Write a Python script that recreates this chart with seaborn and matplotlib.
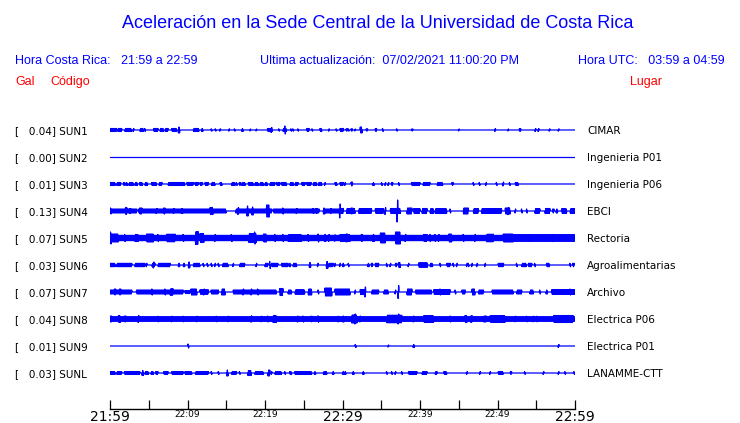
import numpy as np
import pandas as pd
import matplotlib
matplotlib.use("Agg")
import matplotlib.pyplot as plt
import seaborn as sns

# estaciones
codes = ["SUN1", "SUN2", "SUN3", "SUN4", "SUN5", "SUN6", "SUN7", "SUN8", "SUN9", "SUNL"]
places = ["CIMAR", "Ingenieria P01", "Ingenieria P06", "EBCI", "Rectoria",
          "Agroalimentarias", "Archivo", "Electrica P06", "Electrica P01", "LANAMME-CTT"]
peak_gal = [0.04, 0.00, 0.01, 0.13, 0.07, 0.03, 0.07, 0.04, 0.01, 0.03]
# ruido de fondo continuo (alto relativo)
base_amp = [0, 0, 0, 0, 2.7, 0, 0, 2.2, 0, 0]

tick_min = list(range(0, 61, 5))
tick_labels = ["21:59", "", "22:09", "", "22:19", "", "22:29", "", "22:39", "", "22:49", "", "22:59"]
big_ticks = ["21:59", "22:29", "22:59"]

sun1 = [(0.0, 0.86, 1.5), (1.0, 1.5, 1.5), (1.93, 2.79, 1.5), (3.0, 3.0, 1.5), (3.87, 4.3, 1.5),
        (4.5, 4.5, 1.5), (5.6, 6.2, 1.5), (6.45, 6.9, 1.5), (7.1, 7.5, 1.5), (7.95, 8.6, 1.5),
        (8.9, 8.9, 3), (10.75, 11.5, 1.5), (11.9, 11.9, 1.5), (13.1, 13.1, 1.2), (13.6, 13.6, 1.2),
        (14.2, 14.2, 1.2), (15.35, 15.35, 1.2), (16.1, 16.1, 1.2), (17.0, 17.2, 1.5), (18.1, 18.1, 1),
        (18.9, 18.9, 1), (20.3, 20.95, 1.5), (20.85, 20.85, 2.5), (21.8, 21.8, 1.2), (22.3, 22.8, 1.5),
        (22.6, 22.6, 4), (23.35, 23.35, 1.2), (23.65, 23.65, 1.2), (24.3, 24.3, 1.2), (25.4, 25.7, 1.5),
        (26.1, 26.1, 1.2), (27.1, 27.3, 1.5), (28.25, 28.25, 1.2), (29.2, 29.2, 1.2), (29.65, 30.1, 1.5),
        (30.55, 30.55, 1.2), (30.8, 30.8, 1.2), (31.2, 31.2, 1.2), (31.6, 31.6, 1), (32.3, 32.5, 3),
        (33.15, 33.15, 1.2), (34.2, 34.4, 1.5), (35.2, 35.2, 1.5), (37.0, 37.0, 1.2), (39.0, 39.0, 1),
        (45.0, 45.0, 1), (49.7, 49.7, 1.5), (51.4, 51.4, 1), (52.8, 53.0, 1.5), (54.9, 54.9, 1.5),
        (55.3, 55.3, 1.5), (56.7, 56.7, 1.2), (57.9, 57.9, 1.2)]
sun2 = []
sun3 = [(0.0, 0.65, 1.5), (0.86, 1.42, 1.5), (1.72, 1.94, 1.5), (2.15, 2.15, 1.5), (2.45, 3.0, 1.5),
        (3.23, 3.53, 1.5), (3.78, 4.22, 1.5), (4.52, 4.82, 1.5), (5.38, 6.02, 1.5), (6.37, 6.75, 1.5),
        (7.53, 9.68, 1.5), (9.89, 10.75, 1.5), (10.97, 11.4, 1.5), (11.61, 11.91, 1.5), (12.26, 12.69, 1.5),
        (13.12, 13.55, 1.5), (14.19, 14.49, 1.5), (15.7, 16.13, 1.5), (16.34, 16.34, 1.5), (16.77, 16.77, 1.5),
        (16.99, 17.42, 1.5), (17.85, 18.49, 1.5), (18.71, 19.14, 1.5), (19.35, 19.78, 1.5), (20.0, 20.34, 1.5),
        (20.65, 21.29, 1.5), (21.51, 21.94, 1.5), (22.15, 22.8, 1.5), (23.23, 23.66, 1.5), (23.87, 24.3, 1.5),
        (24.73, 25.16, 1.5), (25.38, 25.94, 1.5), (26.24, 26.67, 1.5), (26.88, 27.31, 1.5), (27.74, 27.74, 1.5),
        (29.03, 29.25, 1.5), (29.68, 30.11, 1.5), (30.3, 30.3, 1.5), (31.2, 31.2, 2), (34.0, 34.0, 1.5),
        (35.05, 35.05, 1.5), (35.5, 35.5, 1.5), (35.9, 35.9, 1.5), (36.4, 36.4, 1.5), (37.3, 37.3, 1.5),
        (38.9, 40.0, 1.5), (40.4, 41.3, 1.5), (42.2, 42.9, 1.5), (44.2, 44.2, 1.5), (46.9, 46.9, 1.5),
        (47.7, 47.7, 1.5), (48.5, 48.5, 1.5), (49.9, 49.9, 1.5), (50.75, 50.75, 2), (51.6, 51.6, 1.5),
        (52.3, 52.7, 1.5)]
sun4 = [(0.0, 3.5, 2.0), (3.7, 15.0, 2.0), (16.2, 20.9, 2.0), (21.1, 27.0, 2.0), (27.6, 29.9, 2.0),
        (0.1, 0.1, 3), (2.0, 2.15, 3.5), (2.6, 2.6, 2.5), (3.8, 4.1, 3), (6.0, 6.0, 2.5), (6.9, 7.1, 3),
        (8.2, 8.2, 2.5), (9.3, 9.3, 2.5), (12.9, 13.3, 3.5), (16.55, 16.55, 3.5), (17.75, 17.75, 5),
        (18.4, 18.4, 4), (20.2, 20.6, 6), (22.35, 22.35, 3), (24.1, 24.1, 2.5), (26.25, 26.25, 2.5),
        (26.65, 26.65, 2.5), (27.5, 27.75, 3), (28.5, 28.5, 2.5), (29.65, 29.65, 7),
        (29.7, 30.1, 2.5), (30.55, 31.6, 2.5), (31.2, 31.2, 3), (32.05, 33.8, 2.3), (34.2, 35.3, 2.3),
        (35.5, 35.5, 3.5), (36.15, 37.45, 2.5), (37.1, 37.1, 11), (38.3, 38.95, 3), (39.15, 40.0, 2.3),
        (40.25, 40.9, 2.5), (41.3, 41.75, 2.3), (41.95, 43.45, 2.3), (43.9, 43.9, 2), (45.6, 46.25, 3),
        (46.9, 47.55, 2.3), (47.95, 50.55, 2.3), (51.0, 51.65, 3), (51.4, 51.4, 3.5), (52.3, 52.3, 2),
        (53.15, 53.15, 2), (53.8, 53.8, 2), (54.85, 55.5, 2.3), (56.15, 56.8, 2.5), (57.2, 57.2, 2),
        (57.65, 57.65, 2), (58.3, 58.95, 2.3), (59.4, 60.0, 2.3)]
sun5 = [(0.0, 1.07, 4), (0.1, 0.1, 6), (1.93, 1.93, 3.5), (3.2, 3.65, 3.5), (4.7, 5.6, 4), (6.2, 6.2, 3.5),
        (7.3, 8.4, 3.8), (9.45, 9.45, 3.5), (11.05, 11.4, 6.3), (11.6, 12.1, 4.5), (13.55, 13.55, 3.5),
        (15.7, 15.7, 3.5), (17.9, 18.9, 4.5), (18.7, 18.7, 6), (19.8, 20.2, 4), (21.3, 21.3, 3.5),
        (22.35, 22.35, 3.5), (23.0, 24.7, 3.3), (25.6, 25.6, 3.5), (26.9, 26.9, 4), (27.75, 27.75, 3.5),
        (28.25, 28.25, 3.5), (29.0, 29.0, 3.2), (29.65, 31.0, 3.5), (30.55, 30.55, 4), (32.5, 32.5, 3.5),
        (34.0, 34.0, 3.5), (34.85, 35.5, 5), (36.8, 37.45, 6), (38.1, 38.1, 3.5), (40.45, 40.9, 3.5),
        (41.3, 41.3, 3.5), (41.95, 41.95, 3.5), (42.4, 42.4, 3.5), (43.7, 44.1, 4), (45.6, 45.6, 3.5),
        (47.1, 47.1, 3.5), (48.6, 49.5, 3.8), (50.75, 52.05, 4), (52.0, 60.0, 3.2), (54.2, 54.2, 3.5),
        (57.0, 57.25, 3.5)]
sun6 = [(0.0, 0.65, 1.7), (0.85, 2.8, 1.7), (3.2, 4.5, 1.7), (4.7, 4.7, 1.7), (5.4, 5.8, 1.7),
        (5.6, 5.6, 3), (6.2, 7.75, 1.7), (8.8, 9.0, 1.7), (9.55, 9.55, 1.7), (10.1, 10.3, 3),
        (10.75, 11.6, 1.7), (12.05, 12.05, 1.7), (12.6, 12.6, 1.7), (13.1, 13.1, 1.7), (13.55, 13.55, 1.7),
        (14.0, 14.0, 1.7), (14.5, 15.25, 1.7), (15.9, 15.9, 1.7), (16.75, 17.4, 1.7), (18.9, 18.9, 1.7),
        (20.0, 20.4, 1.7), (20.65, 20.65, 3.5), (20.85, 21.7, 1.7), (22.15, 23.0, 1.7), (23.2, 23.2, 1.7),
        (23.65, 24.1, 1.7), (25.8, 25.8, 2.5), (26.8, 26.8, 1.7), (27.95, 28.1, 3.5), (28.15, 28.8, 1.7),
        (29.0, 29.0, 1.7), (29.65, 29.65, 1.7), (30.1, 30.1, 1.7), (30.8, 30.8, 1.7), (33.35, 33.35, 1.7),
        (33.8, 33.8, 1.7), (34.2, 34.65, 1.7), (35.7, 35.7, 1.7), (36.15, 36.15, 1.7), (36.8, 37.0, 1.7),
        (37.2, 37.45, 2.5), (38.5, 38.5, 1.7), (39.8, 41.0, 2.2), (41.3, 41.6, 1.7), (42.6, 42.6, 1.7),
        (43.45, 43.9, 1.7), (44.3, 44.3, 1.7), (44.75, 44.75, 1.7), (46.05, 46.05, 1.7), (46.25, 46.25, 1.7),
        (46.7, 46.7, 1.7), (47.35, 47.35, 1.7), (48.4, 48.4, 1.7), (50.1, 50.8, 1.7), (52.5, 52.5, 1.7),
        (53.15, 53.7, 1.7), (54.0, 54.45, 1.7), (54.85, 54.85, 1.7), (56.35, 56.7, 1.7), (59.4, 59.4, 1.7),
        (59.8, 59.8, 1.7)]
sun7 = [(0.0, 2.8, 2), (0.65, 0.65, 3), (1.3, 1.3, 3), (3.4, 9.45, 2), (5.45, 5.45, 3), (7.1, 7.1, 3),
        (7.75, 8.15, 3.2), (9.65, 10.3, 1.5), (10.45, 11.2, 3), (11.6, 12.7, 2.2), (12.1, 12.1, 3),
        (13.05, 14.0, 2), (14.4, 14.85, 3), (15.9, 21.5, 2), (17.2, 17.2, 3), (18.25, 18.25, 3),
        (19.1, 19.1, 3), (21.9, 22.35, 3.5), (23.0, 23.45, 2), (23.9, 25.15, 2.2), (25.6, 26.0, 3),
        (26.9, 26.9, 2), (27.75, 28.6, 4), (29.0, 31.0, 3), (31.6, 31.6, 2), (32.3, 32.9, 2.5),
        (32.9, 32.9, 5), (33.8, 34.65, 2), (35.3, 35.9, 2), (36.8, 36.8, 2), (37.2, 37.2, 6.5),
        (38.3, 38.95, 3), (39.4, 41.5, 2), (41.75, 43.9, 2.3), (42.6, 42.6, 3), (44.55, 44.55, 2),
        (45.4, 45.85, 2), (46.7, 47.1, 3), (47.55, 48.2, 2), (49.3, 52.05, 2), (52.5, 53.15, 2),
        (54.2, 54.65, 2), (55.5, 55.5, 2), (56.35, 56.35, 2), (57.0, 60.0, 2.3), (59.4, 59.4, 3)]
sun8 = [(0.0, 0.2, 3), (1.05, 1.3, 3.5), (1.95, 1.95, 3), (3.65, 3.65, 3.5), (6.2, 6.2, 2.8),
        (7.95, 7.95, 2.8), (9.45, 9.45, 2.8), (11.2, 11.2, 2.8), (13.75, 13.75, 2.8), (15.25, 15.25, 2.8),
        (18.25, 18.25, 3.2), (19.55, 19.55, 2.8), (20.4, 20.4, 3), (21.05, 21.5, 3.5), (24.2, 24.2, 3),
        (24.95, 24.95, 3), (26.0, 26.0, 2.8), (26.9, 26.9, 3.2), (29.45, 29.45, 2.8), (30.1, 30.1, 3),
        (31.2, 31.85, 4), (31.6, 31.6, 5), (32.3, 32.3, 3), (35.7, 37.65, 3.8), (37.2, 37.2, 5),
        (39.15, 39.15, 3), (40.45, 41.75, 3.3), (43.9, 43.9, 3), (45.8, 46.05, 3.5), (46.5, 46.8, 3.2),
        (48.2, 48.6, 3), (49.05, 51.0, 3.3), (52.3, 52.3, 2.8), (53.8, 53.8, 2.8), (54.65, 54.65, 2.8),
        (55.1, 55.1, 2.8), (57.25, 59.8, 3.5)]
sun9 = [(10.1, 10.1, 2), (31.7, 31.7, 1.5), (35.9, 35.9, 1), (39.2, 39.2, 1.5), (57.9, 57.9, 1.5)]
sunl = [(0.0, 0.65, 1.4), (0.85, 1.5, 1.4), (1.85, 3.85, 1.4), (4.1, 4.3, 2.5), (4.5, 5.0, 1.4),
        (5.3, 5.6, 1.4), (5.9, 6.2, 1.4), (6.9, 7.5, 1.4), (7.95, 9.45, 1.4), (9.65, 10.55, 1.4),
        (11.0, 12.7, 1.4), (13.1, 13.1, 1.4), (14.0, 14.0, 1.4), (15.05, 15.25, 3), (15.7, 16.35, 1.4),
        (16.75, 16.75, 1.4), (17.75, 18.25, 2.5), (18.7, 19.8, 1.4), (20.4, 20.65, 3), (20.85, 20.85, 1.4),
        (21.3, 22.15, 1.4), (22.6, 22.6, 1.4), (23.2, 23.45, 1.4), (23.85, 26.0, 1.4), (26.45, 26.45, 1.4),
        (27.5, 28.0, 1.4), (28.8, 28.8, 1.4), (30.1, 30.1, 1.4), (30.35, 30.35, 1.4), (31.4, 31.4, 1.4),
        (32.7, 32.7, 1.4), (35.7, 35.7, 1.4), (36.35, 36.35, 1.4), (36.8, 36.8, 1.4), (37.65, 37.65, 1.4),
        (38.5, 39.6, 1.4), (40.25, 40.9, 1.4), (41.95, 42.2, 1.4), (43.05, 43.45, 1.4), (46.05, 46.05, 1.4),
        (47.75, 47.75, 1.4), (49.05, 49.05, 1.4), (50.1, 50.75, 1.4), (51.65, 51.85, 1.4), (53.55, 53.55, 1.4),
        (55.95, 55.95, 1.4), (57.9, 57.9, 1.4), (58.75, 58.75, 1.4), (59.9, 59.9, 1.4)]
all_bursts = [sun1, sun2, sun3, sun4, sun5, sun6, sun7, sun8, sun9, sunl]

W, H = 740, 423
sns.set_theme(style="white")
plt.rcParams["font.family"] = ["DejaVu Sans"]

fig = plt.figure(figsize=(W / 100, H / 100), dpi=100)
ax = fig.add_axes([110 / W, (H - 409) / H, 465 / W, (409 - 118) / H])

# construir trazas (zigzag dentro de la envolvente)
step = 0.065
t = np.arange(0, 60 + step / 2, step)
sign = np.where(np.arange(len(t)) % 2 == 0, 1.0, -1.0)
frames = []
for i, bursts in enumerate(all_bursts):
    amp = np.full(len(t), float(base_amp[i]))
    for a, b, h in bursts:
        if b - a < 0.14:
            c = (a + b) / 2
            a, b = c - 0.07, c + 0.07
        m = (t >= a) & (t <= b)
        amp[m] = np.maximum(amp[m], h)
    frames.append(pd.DataFrame({"t": t, "y": i + sign * amp / 27, "station": codes[i]}))
df = pd.concat(frames, ignore_index=True)

sns.lineplot(data=df, x="t", y="y", units="station", estimator=None, sort=False,
             color="#0000ff", lw=0.9, legend=False, ax=ax)

ax.set_xlim(0, 60)
ax.set_ylim(10.333, -0.444)
ax.set_yticks([])
ax.set_xlabel("")
ax.set_ylabel("")
sns.despine(ax=ax, left=True, top=True, right=True)
ax.spines["bottom"].set_color("black")
ax.spines["bottom"].set_linewidth(1.0)
ax.set_xticks(tick_min, tick_labels)
ax.tick_params(axis="x", direction="in", length=6.5, width=0.9, pad=1, colors="black", bottom=True)
for lab in ax.get_xticklabels():
    lab.set_fontsize(10 if lab.get_text() in big_ticks else 6.5)


def ftext(x, y, s, **kw):
    fig.text(x / W, 1 - y / H, s, **kw)


hdr = dict(family=["Liberation Sans", "DejaVu Sans"], color="#0000ff", va="center_baseline")
ftext(378, 22, "Aceleración en la Sede Central de la Universidad de Costa Rica", ha="center", fontsize=13, **hdr)
ftext(15, 60, "Hora Costa Rica:   21:59 a 22:59", ha="left", fontsize=9, **hdr)
ftext(260, 60, "Ultima actualización:  07/02/2021 11:00:20 PM", ha="left", fontsize=9, **hdr)
ftext(725, 60, "Hora UTC:   03:59 a 04:59", ha="right", fontsize=9, **hdr)
red = dict(family=["Liberation Sans", "DejaVu Sans"], color="#ff0000", va="center_baseline", fontsize=9)
ftext(15, 80, "Gal", ha="left", **red)
ftext(50, 80, "Código", ha="left", **red)
ftext(630, 80, "Lugar", ha="left", **red)

for i in range(len(codes)):
    yp = 130 + 27 * i
    ftext(15, yp, f"[   {peak_gal[i]:.2f}] {codes[i]}", ha="left", va="center_baseline",
          fontsize=7.5, color="black")
    ftext(587, yp, places[i], ha="left", va="center_baseline", fontsize=7.5, color="black")

fig.savefig("out.png", dpi=100)
